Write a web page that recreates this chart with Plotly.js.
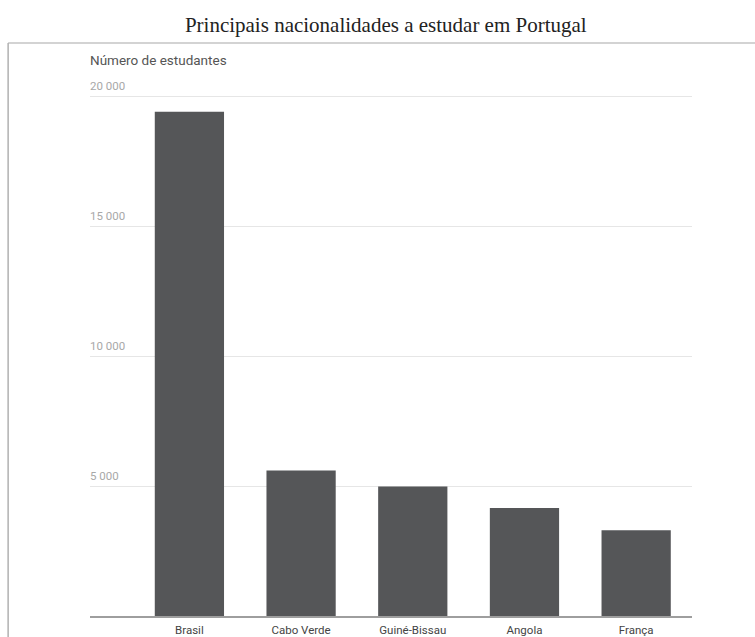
<!DOCTYPE html>
<html>
<head>
<meta charset="utf-8">
<script src="https://cdn.plot.ly/plotly-3.0.1.min.js"></script>
<style>html,body{margin:0;padding:0;background:#fff;}#chart{width:755px;height:637px;}</style>
</head>
<body>
<div id="chart"></div>
<script>
const countries = ["Brasil", "Cabo Verde", "Guiné-Bissau", "Angola", "França"];
const students = [19400, 5600, 4980, 4150, 3300];
const yTicks = [5000, 10000, 15000, 20000];
const chartTitle = "Principais nacionalidades a estudar em Portugal";
const yLabel = "Número de estudantes";

const trace = {
  type: "bar",
  x: countries,
  y: students,
  marker: {color: "#555658"},
  hoverinfo: "x+y"
};

const layout = {
  width: 755,
  height: 637,
  paper_bgcolor: "#fff",
  plot_bgcolor: "#fff",
  separators: ", ",
  margin: {l: 90, r: 63, t: 95, b: 21},
  bargap: 0.38,
  showlegend: false,
  title: {
    text: chartTitle,
    font: {family: "Liberation Serif, Times New Roman, serif", size: 21, color: "#222"},
    x: 0.511, xanchor: "center", xref: "container",
    y: 0.9615, yanchor: "middle", yref: "container"
  },
  xaxis: {
    type: "category",
    range: [-0.89, 4.5],
    showgrid: false,
    showline: true,
    linecolor: "#9e9e9e",
    linewidth: 2,
    ticks: "",
    ticklabelstandoff: 2,
    tickfont: {family: "Roboto, sans-serif", size: 11.5, color: "#444"},
    fixedrange: true
  },
  yaxis: {
    range: [0, 20040],
    tickvals: yTicks,
    tickformat: ",d",
    showgrid: true,
    gridcolor: "#e6e6e6",
    gridwidth: 1,
    zeroline: false,
    showline: false,
    ticks: "",
    ticklabelposition: "inside",
    ticklabeloverflow: "allow",
    ticklabelshift: -10,
    ticklabelstandoff: -3,
    tickfont: {family: "Roboto, sans-serif", size: 11.5, color: "#a8a8a8"},
    fixedrange: true
  },
  annotations: [{
    text: yLabel,
    xref: "paper", yref: "paper",
    x: 0, y: 1,
    xanchor: "left", yanchor: "bottom",
    yshift: 25,
    xshift: -2,
    showarrow: false,
    font: {family: "Roboto, sans-serif", size: 13.5, color: "#555"}
  }],
  shapes: [
    {type: "line", xref: "paper", yref: "paper", x0: -0.136, x1: 1.2, y0: 1.1, y1: 1.1, line: {color: "#c4c4c4", width: 1.5}},
    {type: "line", xref: "paper", yref: "paper", x0: -0.136, x1: -0.136, y0: 1.1, y1: -0.1, line: {color: "#b0b0b0", width: 1.5}}
  ]
};

Plotly.newPlot("chart", [trace], layout, {displayModeBar: false, staticPlot: true});
</script>
</body>
</html>
